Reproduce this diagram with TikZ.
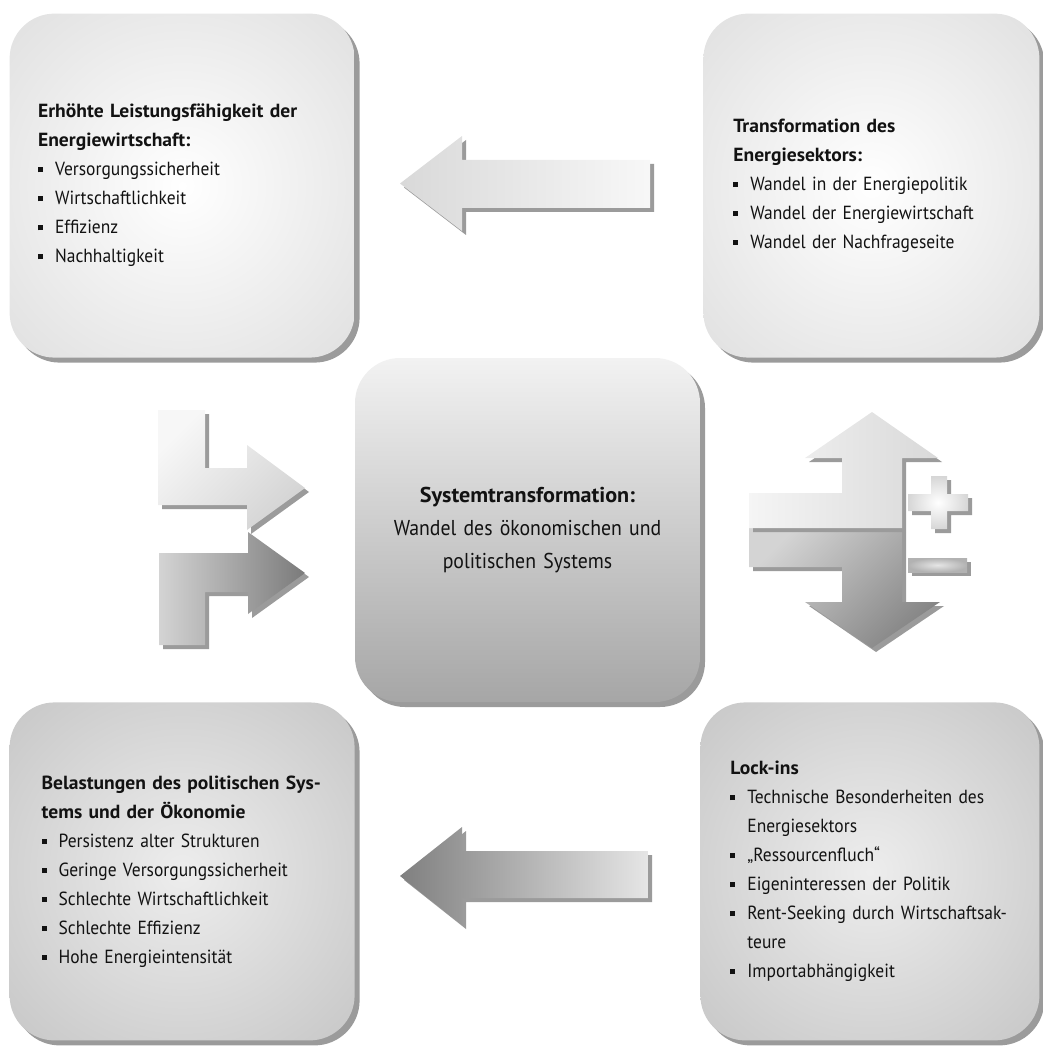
\documentclass[tikz,border=0pt]{standalone}
\usepackage{fontspec}
\setmainfont{PT Sans}[FakeStretch=0.92, BoldFeatures={FakeStretch=1.03}]
\usetikzlibrary{positioning,shadows}
\definecolor{cInk}{RGB}{18,18,18}
\definecolor{cShade}{RGB}{155,155,155}
\definecolor{cCoreTop}{RGB}{242,242,242}
\definecolor{cCoreBot}{RGB}{166,166,166}
\pgfdeclareradialshading{glowLight}{\pgfpoint{0bp}{0bp}}{color(0bp)=(white); color(50bp)=(black!17); color(71bp)=(black!28)}
\pgfdeclareradialshading{glowDark}{\pgfpoint{0bp}{0bp}}{color(0bp)=(black!7); color(50bp)=(black!28); color(71bp)=(black!37)}
\newcommand{\pbul}{\makebox[17pt][l]{\rule[3.5pt]{5pt}{5pt}}}
\newcommand{\pind}{\hspace*{17pt}}
\tikzset{
  panel/.style={
    rectangle, rounded corners=45pt, inner sep=0pt,
    minimum width=345pt, minimum height=344pt, text width=288pt,
    align=left, text=cInk, font=\fontsize{19}{29}\selectfont,
    drop shadow={shadow xshift=5pt, shadow yshift=-5pt, fill=cShade, opacity=1},
  },
  panelL/.style={panel, shade, shading=glowLight},
  panelD/.style={panel, shade, shading=glowDark},
  core/.style={panel, top color=cCoreTop, bottom color=cCoreBot,
    align=center, font=\fontsize{21.5}{33}\selectfont},
  blk/.style={drop shadow={shadow xshift=4pt, shadow yshift=-4pt, fill=cShade, opacity=1}},
}
\begin{document}
\begin{tikzpicture}[x=1pt,y=1pt]
\useasboundingbox (0,0) rectangle (1042,-1048);

% ===== centre and the four corner panels =====
\node[core] (sys) at (527.5,-530)
  {\textbf{Systemtransformation:}\\ Wandel des ökonomischen und\\ politischen Systems};

\node[panelL, above left=0pt and 0pt of sys] (gain)
  {\textbf{Erhöhte Leistungsfähigkeit der}\\ \textbf{Energiewirtschaft:}\\
   \pbul Versorgungssicherheit\\ \pbul Wirtschaftlichkeit\\ \pbul Effizienz\\ \pbul Nachhaltigkeit};

\node[panelL, above right=0pt and 3pt of sys, minimum width=336pt, text width=276pt] (trans)
  {\textbf{Transformation des}\\ \textbf{Energiesektors:}\\
   \pbul Wandel in der Energiepolitik\\ \pbul Wandel der Energiewirtschaft\\ \pbul Wandel der Nachfrageseite};

\node[panelD, below left=0pt and 0pt of sys, minimum height=338pt, text width=281pt] (load)
  {\textbf{Belastungen des politischen Sys-}\\ \textbf{tems und der Ökonomie}\\
   \pbul Persistenz alter Strukturen\\ \pbul Geringe Versorgungssicherheit\\
   \pbul Schlechte Wirtschaftlichkeit\\ \pbul Schlechte Effizienz\\ \pbul Hohe Energieintensität};

\node[panelD, below right=0pt and 0pt of sys, minimum width=339pt, minimum height=338pt, text width=279pt] (lock)
  {\textbf{Lock-ins}\\
   \pbul Technische Besonderheiten des\\ \pind Energiesektors\\ \pbul „Ressourcenfluch“\\
   \pbul Eigeninteressen der Politik\\ \pbul Rent-Seeking durch Wirtschaftsak-\\ \pind teure\\
   \pbul Importabhängigkeit};

% ===== block arrows top and bottom =====
\path[blk, left color=black!15, right color=black!3]
  (400,-183.5) -- (462,-136) -- (462,-160) -- (650,-160) -- (650,-208) -- (462,-208) -- (462,-231) -- cycle;
\path[blk, left color=black!50, right color=black!10]
  (400,-876) -- (462,-827) -- (462,-851) -- (648,-851) -- (648,-898) -- (462,-898) -- (462,-925) -- cycle;

% ===== bent arrows left of the centre =====
\path[blk, top color=black!3, bottom color=black!17, shading angle=45]
  (158,-410) -- (205,-410) -- (205,-468) -- (247,-468) -- (247,-445) -- (305,-488) -- (247,-530)
  -- (247,-505) -- (158,-505) -- cycle;
\path[blk, left color=black!17, right color=black!52]
  (159,-645) -- (205,-645) -- (205,-592) -- (248,-592) -- (248,-614) -- (305,-573) -- (248,-532)
  -- (248,-553) -- (159,-553) -- cycle;

% ===== up/down arrow with plus and minus =====
\path[blk, top color=black!17, bottom color=black!48, shading angle=45]
  (749,-528) -- (902,-528) -- (902,-602) -- (940,-602) -- (872,-648) -- (805,-602) -- (842,-602)
  -- (842,-567) -- (749,-567) -- cycle;
\path[blk, left color=black!4, right color=black!15]
  (749,-528) -- (749,-493) -- (842,-493) -- (842,-458) -- (805,-458) -- (872,-412) -- (938,-458)
  -- (902,-458) -- (902,-528) -- cycle;
\path[blk, inner color=white, outer color=black!16]
  (931,-476) -- (947,-476) -- (947,-494) -- (968,-494) -- (968,-511) -- (947,-511) -- (947,-529)
  -- (931,-529) -- (931,-511) -- (908,-511) -- (908,-494) -- (931,-494) -- cycle;
\path[blk, inner color=black!10, outer color=black!30] (908,-558) rectangle (967,-572);

\end{tikzpicture}
\end{document}
